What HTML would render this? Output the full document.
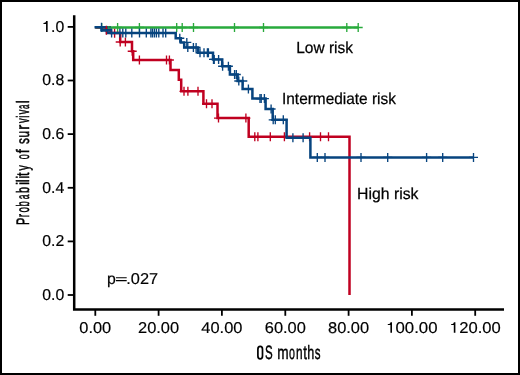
<!DOCTYPE html>
<html><head><meta charset="utf-8"><style>
html,body{margin:0;padding:0;background:#fff;}
.wrap{position:relative;width:520px;height:375px;box-sizing:border-box;border:2px solid #000;background:#fff;overflow:hidden;}
svg{position:absolute;left:-2px;top:-2px;will-change:transform;}
text{font-family:"Liberation Sans",sans-serif;fill:#000;text-rendering:geometricPrecision;stroke:#000;stroke-width:0.18px;}
.b{stroke:#000;stroke-width:0.25px;}
</style></head><body>
<div class="wrap"><svg width="520" height="375" viewBox="0 0 520 375">
<path d="M74.2 15.2V309.4H504" stroke="#000" stroke-width="2.5" fill="none" stroke-linejoin="miter"/>
<path d="M67.7 26.9H74" stroke="#000" stroke-width="1.8"/>
<path d="M47.65 21.05V31.90H46.05V23.95H43.45V22.95C45.25 22.95 45.95 22.25 46.15 21.05Z" fill="#000"/>
<text x="64.2" y="31.85" text-anchor="end" font-size="15.8">.0</text>
<path d="M67.7 80.5H74" stroke="#000" stroke-width="1.8"/>
<text x="64.2" y="85.45" text-anchor="end" font-size="15.8" textLength="22.0" lengthAdjust="spacingAndGlyphs">0.8</text>
<path d="M67.7 134.1H74" stroke="#000" stroke-width="1.8"/>
<text x="64.2" y="139.05" text-anchor="end" font-size="15.8" textLength="22.0" lengthAdjust="spacingAndGlyphs">0.6</text>
<path d="M67.7 187.8H74" stroke="#000" stroke-width="1.8"/>
<text x="64.2" y="192.75" text-anchor="end" font-size="15.8" textLength="22.0" lengthAdjust="spacingAndGlyphs">0.4</text>
<path d="M67.7 241.4H74" stroke="#000" stroke-width="1.8"/>
<text x="64.2" y="246.35" text-anchor="end" font-size="15.8" textLength="22.0" lengthAdjust="spacingAndGlyphs">0.2</text>
<path d="M67.7 295.0H74" stroke="#000" stroke-width="1.8"/>
<text x="64.2" y="299.95" text-anchor="end" font-size="15.8" textLength="22.0" lengthAdjust="spacingAndGlyphs">0.0</text>
<path d="M95.3 310V315.8" stroke="#000" stroke-width="1.8"/>
<text x="95.3" y="333.2" text-anchor="middle" font-size="15.6" textLength="31.9" lengthAdjust="spacingAndGlyphs">0.00</text>
<path d="M158.6 310V315.8" stroke="#000" stroke-width="1.8"/>
<text x="158.6" y="333.2" text-anchor="middle" font-size="15.6" textLength="41.1" lengthAdjust="spacingAndGlyphs">20.00</text>
<path d="M221.9 310V315.8" stroke="#000" stroke-width="1.8"/>
<text x="221.9" y="333.2" text-anchor="middle" font-size="15.6" textLength="41.1" lengthAdjust="spacingAndGlyphs">40.00</text>
<path d="M285.3 310V315.8" stroke="#000" stroke-width="1.8"/>
<text x="285.3" y="333.2" text-anchor="middle" font-size="15.6" textLength="41.1" lengthAdjust="spacingAndGlyphs">60.00</text>
<path d="M348.6 310V315.8" stroke="#000" stroke-width="1.8"/>
<text x="348.6" y="333.2" text-anchor="middle" font-size="15.6" textLength="41.1" lengthAdjust="spacingAndGlyphs">80.00</text>
<path d="M411.9 310V315.8" stroke="#000" stroke-width="1.8"/>
<path d="M392.00 322.20V332.80H390.40V325.10H387.80V324.10C389.60 324.10 390.30 323.40 390.50 322.20Z" fill="#000"/>
<text x="395.5" y="333.2" font-size="15.6" textLength="42.0" lengthAdjust="spacingAndGlyphs">00.00</text>
<path d="M475.2 310V315.8" stroke="#000" stroke-width="1.8"/>
<path d="M455.40 322.20V332.80H453.80V325.10H451.20V324.10C453.00 324.10 453.70 323.40 453.90 322.20Z" fill="#000"/>
<text x="459.2" y="333.2" font-size="15.6" textLength="41.5" lengthAdjust="spacingAndGlyphs">20.00</text>
<path d="M95.3 27.5H358.2" stroke="#28aa3c" stroke-width="2.5" fill="none" stroke-linejoin="miter" stroke-linecap="butt"/>
<path d="M97.2 27.5H106.2M101.7 23.0V32.0" stroke="#28aa3c" stroke-width="1.35" fill="none"/>
<path d="M113.1 27.5H122.1M117.6 23.0V32.0" stroke="#28aa3c" stroke-width="1.35" fill="none"/>
<path d="M134.9 27.5H143.9M139.4 23.0V32.0" stroke="#28aa3c" stroke-width="1.35" fill="none"/>
<path d="M172.2 27.5H181.2M176.7 23.0V32.0" stroke="#28aa3c" stroke-width="1.35" fill="none"/>
<path d="M177.7 27.5H186.7M182.2 23.0V32.0" stroke="#28aa3c" stroke-width="1.35" fill="none"/>
<path d="M189.0 27.5H198.0M193.5 23.0V32.0" stroke="#28aa3c" stroke-width="1.35" fill="none"/>
<path d="M230.0 27.5H239.0M234.5 23.0V32.0" stroke="#28aa3c" stroke-width="1.35" fill="none"/>
<path d="M259.0 27.5H268.0M263.5 23.0V32.0" stroke="#28aa3c" stroke-width="1.35" fill="none"/>
<path d="M342.3 27.5H351.3M346.8 23.0V32.0" stroke="#28aa3c" stroke-width="1.35" fill="none"/>
<path d="M353.7 27.5H362.7M358.2 23.0V32.0" stroke="#28aa3c" stroke-width="1.35" fill="none"/>
<path d="M95.3 27.3H106.4V30.4H111V32.9H120.2V42H132V51.2H133.2V60H170.5V70.1H178.8V79.8H181.2V91.3H203.4V103.7H217.5V118.1H248.7V136.8H349.5V295" stroke="#c00020" stroke-width="2.5" fill="none" stroke-linejoin="miter" stroke-linecap="butt"/>
<path d="M110.1 33.2H119.1M114.6 28.7V37.7" stroke="#c00020" stroke-width="1.35" fill="none"/>
<path d="M115.7 42.0H124.7M120.2 37.5V46.5" stroke="#c00020" stroke-width="1.35" fill="none"/>
<path d="M120.9 42.0H129.9M125.4 37.5V46.5" stroke="#c00020" stroke-width="1.35" fill="none"/>
<path d="M127.7 51.2H136.7M132.2 46.7V55.7" stroke="#c00020" stroke-width="1.35" fill="none"/>
<path d="M134.9 60.0H143.9M139.4 55.5V64.5" stroke="#c00020" stroke-width="1.35" fill="none"/>
<path d="M162.0 60.0H171.0M166.5 55.5V64.5" stroke="#c00020" stroke-width="1.35" fill="none"/>
<path d="M164.9 60.0H173.9M169.4 55.5V64.5" stroke="#c00020" stroke-width="1.35" fill="none"/>
<path d="M179.5 91.3H188.5M184.0 86.8V95.8" stroke="#c00020" stroke-width="1.35" fill="none"/>
<path d="M183.4 91.3H192.4M187.9 86.8V95.8" stroke="#c00020" stroke-width="1.35" fill="none"/>
<path d="M193.5 91.3H202.5M198.0 86.8V95.8" stroke="#c00020" stroke-width="1.35" fill="none"/>
<path d="M202.0 103.7H211.0M206.5 99.2V108.2" stroke="#c00020" stroke-width="1.35" fill="none"/>
<path d="M207.5 103.7H216.5M212.0 99.2V108.2" stroke="#c00020" stroke-width="1.35" fill="none"/>
<path d="M214.0 118.1H223.0M218.5 113.6V122.6" stroke="#c00020" stroke-width="1.35" fill="none"/>
<path d="M241.4 118.1H250.4M245.9 113.6V122.6" stroke="#c00020" stroke-width="1.35" fill="none"/>
<path d="M250.3 136.8H259.3M254.8 132.3V141.3" stroke="#c00020" stroke-width="1.35" fill="none"/>
<path d="M253.4 136.8H262.4M257.9 132.3V141.3" stroke="#c00020" stroke-width="1.35" fill="none"/>
<path d="M265.8 136.8H274.8M270.3 132.3V141.3" stroke="#c00020" stroke-width="1.35" fill="none"/>
<path d="M279.9 136.8H288.9M284.4 132.3V141.3" stroke="#c00020" stroke-width="1.35" fill="none"/>
<path d="M305.1 136.8H314.1M309.6 132.3V141.3" stroke="#c00020" stroke-width="1.35" fill="none"/>
<path d="M316.0 136.8H325.0M320.5 132.3V141.3" stroke="#c00020" stroke-width="1.35" fill="none"/>
<path d="M324.0 136.8H333.0M328.5 132.3V141.3" stroke="#c00020" stroke-width="1.35" fill="none"/>
<path d="M94.5 27.3H101.5V30.3H107V32.9H175.7V38.2H180.8V42.4H184.2V47.5H198V52.7H213V59.4H222.2V66.2H229.9V74.5H237.6V81H242.6V89H252.4V98.6H265.6V109H272.7V119.8H286.6V137.8H310.4V157.4H473.5" stroke="#07447f" stroke-width="2.5" fill="none" stroke-linejoin="miter" stroke-linecap="butt"/>
<path d="M101.5 27.3H111M101.5 30.3H112" stroke="#07447f" stroke-width="2.5" fill="none"/>
<path d="M97.0 27.3H106.0M101.5 22.8V31.8" stroke="#07447f" stroke-width="1.35" fill="none"/>
<path d="M107.1 32.9H116.1M111.6 28.4V37.4" stroke="#07447f" stroke-width="1.35" fill="none"/>
<path d="M115.4 32.9H124.4M119.9 28.4V37.4" stroke="#07447f" stroke-width="1.35" fill="none"/>
<path d="M118.3 32.9H127.3M122.8 28.4V37.4" stroke="#07447f" stroke-width="1.35" fill="none"/>
<path d="M121.3 32.9H130.3M125.8 28.4V37.4" stroke="#07447f" stroke-width="1.35" fill="none"/>
<path d="M127.3 32.9H136.3M131.8 28.4V37.4" stroke="#07447f" stroke-width="1.35" fill="none"/>
<path d="M135.0 32.9H144.0M139.5 28.4V37.4" stroke="#07447f" stroke-width="1.35" fill="none"/>
<path d="M141.8 32.9H150.8M146.3 28.4V37.4" stroke="#07447f" stroke-width="1.35" fill="none"/>
<path d="M146.4 32.9H155.4M150.9 28.4V37.4" stroke="#07447f" stroke-width="1.35" fill="none"/>
<path d="M148.0 32.9H157.0M152.5 28.4V37.4" stroke="#07447f" stroke-width="1.35" fill="none"/>
<path d="M149.9 32.9H158.9M154.4 28.4V37.4" stroke="#07447f" stroke-width="1.35" fill="none"/>
<path d="M151.9 32.9H160.9M156.4 28.4V37.4" stroke="#07447f" stroke-width="1.35" fill="none"/>
<path d="M154.3 32.9H163.3M158.8 28.4V37.4" stroke="#07447f" stroke-width="1.35" fill="none"/>
<path d="M158.5 32.9H167.5M163.0 28.4V37.4" stroke="#07447f" stroke-width="1.35" fill="none"/>
<path d="M161.2 32.9H170.2M165.7 28.4V37.4" stroke="#07447f" stroke-width="1.35" fill="none"/>
<path d="M175.3 38.2H184.3M179.8 33.7V42.7" stroke="#07447f" stroke-width="1.35" fill="none"/>
<path d="M182.3 42.4H191.3M186.8 37.9V46.9" stroke="#07447f" stroke-width="1.35" fill="none"/>
<path d="M183.3 47.5H192.3M187.8 43.0V52.0" stroke="#07447f" stroke-width="1.35" fill="none"/>
<path d="M188.9 47.5H197.9M193.4 43.0V52.0" stroke="#07447f" stroke-width="1.35" fill="none"/>
<path d="M191.6 47.5H200.6M196.1 43.0V52.0" stroke="#07447f" stroke-width="1.35" fill="none"/>
<path d="M195.5 52.7H204.5M200.0 48.2V57.2" stroke="#07447f" stroke-width="1.35" fill="none"/>
<path d="M199.5 52.7H208.5M204.0 48.2V57.2" stroke="#07447f" stroke-width="1.35" fill="none"/>
<path d="M202.9 52.7H211.9M207.4 48.2V57.2" stroke="#07447f" stroke-width="1.35" fill="none"/>
<path d="M203.9 52.7H212.9M208.4 48.2V57.2" stroke="#07447f" stroke-width="1.35" fill="none"/>
<path d="M209.0 59.4H218.0M213.5 54.9V63.9" stroke="#07447f" stroke-width="1.35" fill="none"/>
<path d="M209.7 59.4H218.7M214.2 54.9V63.9" stroke="#07447f" stroke-width="1.35" fill="none"/>
<path d="M214.1 59.4H223.1M218.6 54.9V63.9" stroke="#07447f" stroke-width="1.35" fill="none"/>
<path d="M218.1 66.2H227.1M222.6 61.7V70.7" stroke="#07447f" stroke-width="1.35" fill="none"/>
<path d="M223.9 66.2H232.9M228.4 61.7V70.7" stroke="#07447f" stroke-width="1.35" fill="none"/>
<path d="M230.1 74.5H239.1M234.6 70.0V79.0" stroke="#07447f" stroke-width="1.35" fill="none"/>
<path d="M231.8 74.5H240.8M236.3 70.0V79.0" stroke="#07447f" stroke-width="1.35" fill="none"/>
<path d="M234.3 81.0H243.3M238.8 76.5V85.5" stroke="#07447f" stroke-width="1.35" fill="none"/>
<path d="M238.3 81.0H247.3M242.8 76.5V85.5" stroke="#07447f" stroke-width="1.35" fill="none"/>
<path d="M243.9 89.0H252.9M248.4 84.5V93.5" stroke="#07447f" stroke-width="1.35" fill="none"/>
<path d="M255.5 98.6H264.5M260.0 94.1V103.1" stroke="#07447f" stroke-width="1.35" fill="none"/>
<path d="M256.7 98.6H265.7M261.2 94.1V103.1" stroke="#07447f" stroke-width="1.35" fill="none"/>
<path d="M259.9 98.6H268.9M264.4 94.1V103.1" stroke="#07447f" stroke-width="1.35" fill="none"/>
<path d="M266.6 109.0H275.6M271.1 104.5V113.5" stroke="#07447f" stroke-width="1.35" fill="none"/>
<path d="M268.7 119.8H277.7M273.2 115.3V124.3" stroke="#07447f" stroke-width="1.35" fill="none"/>
<path d="M270.8 119.8H279.8M275.3 115.3V124.3" stroke="#07447f" stroke-width="1.35" fill="none"/>
<path d="M278.8 119.8H287.8M283.3 115.3V124.3" stroke="#07447f" stroke-width="1.35" fill="none"/>
<path d="M288.4 137.8H297.4M292.9 133.3V142.3" stroke="#07447f" stroke-width="1.35" fill="none"/>
<path d="M298.6 137.8H307.6M303.1 133.3V142.3" stroke="#07447f" stroke-width="1.35" fill="none"/>
<path d="M312.8 157.4H321.8M317.3 152.9V161.9" stroke="#07447f" stroke-width="1.35" fill="none"/>
<path d="M320.5 157.4H329.5M325.0 152.9V161.9" stroke="#07447f" stroke-width="1.35" fill="none"/>
<path d="M356.5 157.4H365.5M361.0 152.9V161.9" stroke="#07447f" stroke-width="1.35" fill="none"/>
<path d="M383.2 157.4H392.2M387.7 152.9V161.9" stroke="#07447f" stroke-width="1.35" fill="none"/>
<path d="M422.1 157.4H431.1M426.6 152.9V161.9" stroke="#07447f" stroke-width="1.35" fill="none"/>
<path d="M438.2 157.4H447.2M442.7 152.9V161.9" stroke="#07447f" stroke-width="1.35" fill="none"/>
<path d="M469.0 157.4H478.0M473.5 152.9V161.9" stroke="#07447f" stroke-width="1.35" fill="none"/>
<path d="M106.4 25.8V28.9M106.4 31.8V34.7" stroke="#c00020" stroke-width="1.4"/>
<path d="M108.3 26.1V28.6M110 26.1V28.6" stroke="#28aa3c" stroke-width="1.1"/>
<text x="296.2" y="52.7" font-size="16" textLength="56.8" lengthAdjust="spacingAndGlyphs" class="b">Low risk</text>
<text x="282.0" y="103.8" font-size="16" textLength="113.9" lengthAdjust="spacingAndGlyphs" class="b">Intermediate risk</text>
<text x="357.1" y="199.0" font-size="16" textLength="61.3" lengthAdjust="spacingAndGlyphs" class="b">High risk</text>
<text x="106.9" y="283.6" font-size="15.8">p</text>
<path d="M115.9 277.75H126.7M115.9 280.55H126.7" stroke="#000" stroke-width="1.15"/>
<text x="126.3" y="283.6" font-size="15.8" textLength="31.8" lengthAdjust="spacingAndGlyphs">.027</text>
<rect x="257.9" y="346.4" width="4.6" height="12.5" rx="2.3" ry="2.9" fill="none" stroke="#000" stroke-width="1.7"/>
<text transform="translate(265.11 359.3) scale(0.597 1)" font-size="19.3" style="stroke-width:0.45px">S</text>
<text transform="translate(277.15 359.3) scale(0.708 1)" font-size="19.3" style="stroke-width:0.45px">m</text>
<text transform="translate(288.88 359.3) scale(0.554 1)" font-size="19.3" style="stroke-width:0.45px">o</text>
<text transform="translate(295.95 359.3) scale(0.613 1)" font-size="19.3" style="stroke-width:0.45px">n</text>
<text transform="translate(303.15 359.3) scale(0.688 1)" font-size="19.3" style="stroke-width:0.45px">t</text>
<text transform="translate(307.27 359.3) scale(0.652 1)" font-size="19.3" style="stroke-width:0.45px">h</text>
<text transform="translate(314.71 359.3) scale(0.598 1)" font-size="19.3" style="stroke-width:0.45px">s</text>
<text transform="translate(29.0 225.05) rotate(-90) scale(0.615 1)" font-size="18.0" style="stroke-width:0.5px">P</text>
<text transform="translate(29.0 217.13) rotate(-90) scale(0.560 1)" font-size="18.0" style="stroke-width:0.5px">r</text>
<text transform="translate(29.0 212.58) rotate(-90) scale(0.545 1)" font-size="18.0" style="stroke-width:0.5px">o</text>
<text transform="translate(29.0 206.38) rotate(-90) scale(0.524 1)" font-size="18.0" style="stroke-width:0.5px">b</text>
<text transform="translate(29.0 199.14) rotate(-90) scale(0.462 1)" font-size="18.0" style="stroke-width:0.5px">a</text>
<text transform="translate(29.0 192.94) rotate(-90) scale(0.593 1)" font-size="18.0" style="stroke-width:0.5px">b</text>
<text transform="translate(29.0 185.03) rotate(-90) scale(0.768 1)" font-size="18.0" style="stroke-width:0.5px">i</text>
<text transform="translate(29.0 182.14) rotate(-90) scale(0.768 1)" font-size="18.0" style="stroke-width:0.5px">l</text>
<text transform="translate(29.0 178.73) rotate(-90) scale(0.768 1)" font-size="18.0" style="stroke-width:0.5px">i</text>
<text transform="translate(29.0 176.12) rotate(-90) scale(0.706 1)" font-size="18.0" style="stroke-width:0.5px">t</text>
<text transform="translate(29.0 170.38) rotate(-90) scale(0.594 1)" font-size="18.0" style="stroke-width:0.5px">y</text>
<text transform="translate(29.0 159.25) rotate(-90) scale(0.500 1)" font-size="18.0" style="stroke-width:0.5px">o</text>
<text transform="translate(29.0 153.20) rotate(-90) scale(0.816 1)" font-size="18.0" style="stroke-width:0.5px">f</text>
<text transform="translate(29.0 143.97) rotate(-90) scale(0.659 1)" font-size="18.0" style="stroke-width:0.5px">s</text>
<text transform="translate(29.0 137.40) rotate(-90) scale(0.651 1)" font-size="18.0" style="stroke-width:0.5px">u</text>
<text transform="translate(29.0 129.75) rotate(-90) scale(0.850 1)" font-size="18.0" style="stroke-width:0.5px">r</text>
<text transform="translate(29.0 123.11) rotate(-90) scale(0.501 1)" font-size="18.0" style="stroke-width:0.5px">v</text>
<text transform="translate(29.0 117.65) rotate(-90) scale(0.576 1)" font-size="18.0" style="stroke-width:0.5px">i</text>
<text transform="translate(29.0 114.31) rotate(-90) scale(0.501 1)" font-size="18.0" style="stroke-width:0.5px">v</text>
<text transform="translate(29.0 108.92) rotate(-90) scale(0.431 1)" font-size="18.0" style="stroke-width:0.5px">a</text>
<text transform="translate(29.0 103.24) rotate(-90) scale(0.768 1)" font-size="18.0" style="stroke-width:0.5px">l</text>
</svg></div>
</body></html>
